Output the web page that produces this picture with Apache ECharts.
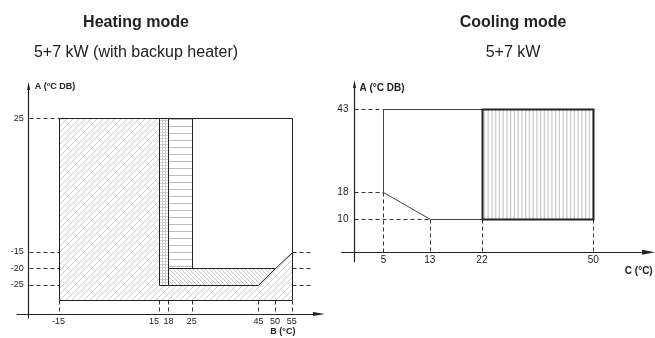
<!DOCTYPE html>
<html>
<head>
<meta charset="utf-8">
<script src="https://cdn.jsdelivr.net/npm/echarts@6/dist/echarts.min.js"></script>
<style>
  html, body { margin: 0; padding: 0; background: #fff; }
  #main { width: 655px; height: 338px; }
</style>
</head>
<body>
<div id="main"></div>
<script>
// ---------- Heating mode: B = water temperature (°C), A = outdoor temperature (°C DB)
const heatTicksB = [-15, 15, 18, 25, 45, 50, 55];
const heatTicksA = [25, -15, -20, -25];
const heatRightGuidesA = [-15, -20, -25];
const heatBoxB = [-15, 55];
const heatBoxA = [-29.5, 25];
const heatZoneGrid = [[15, 25], [18, 25], [18, -25], [15, -25]];
const heatZoneLines = [[18, 25], [25, 25], [25, -20], [18, -20]];
const heatZoneOpen = [[25, 25], [55, 25], [55, -15], [50, -20], [25, -20]];
const heatZoneBack = [[18, -20], [50, -20], [45, -25], [18, -25]];

// ---------- Cooling mode: C = water temperature (°C), A = outdoor temperature (°C DB)
const coolTicksC = [5, 13, 22, 50];
const coolTicksA = [43, 18, 10];
const coolEnvelope = [[5, 43], [50, 43], [50, 10], [13, 10], [5, 18]];
const coolZoneHatch = [[22, 43], [50, 43], [50, 10], [22, 10]];
const coolGuidesH = [[43, 5], [18, 5], [10, 13]];          // [A, C where the guide stops]
const coolGuidesV = [[5, 18], [13, 10], [22, 10], [50, 10]]; // [C, A where the guide starts]

// ---------- layout
const FONT = '"Liberation Sans", Arial, sans-serif';
const INK = '#222';
const heatGrid = { left: 17, top: 86, width: 302, height: 232 };
const heatRangeB = [-27.5, 63.2];
const heatRangeA = [-34.9, 34.7];
const heatAxisB = -24;    // B value where the A axis is drawn
const heatAxisA = -33.7;  // A value where the B axis is drawn
const heatGuideEndB = 61;
const coolGrid = { left: 341.7, top: 84, width: 306.8, height: 177.7 };
const coolRangeC = [-2.21, 59.53];
const coolRangeA = [-2.85, 50.6];
const coolBreak = { start: 31, end: 39.76, gap: 0 }; // the wide 22–50 span is drawn condensed
const coolAxisC = 0;
const coolAxisA = 0;

const heatOffsetY = -(heatAxisB - heatRangeB[0]) / (heatRangeB[1] - heatRangeB[0]) * heatGrid.width;
const heatOffsetX = -(heatAxisA - heatRangeA[0]) / (heatRangeA[1] - heatRangeA[0]) * heatGrid.height;
const coolSpanC = coolRangeC[1] - coolRangeC[0] - (coolBreak.end - coolBreak.start);
const coolOffsetY = -(coolAxisC - coolRangeC[0]) / coolSpanC * coolGrid.width;
const coolOffsetX = -(coolAxisA - coolRangeA[0]) / (coolRangeA[1] - coolRangeA[0]) * coolGrid.height;

// ---------- fill patterns
function pattern(w, h, draw) {
  const c = document.createElement('canvas');
  c.width = w; c.height = h;
  const g = c.getContext('2d');
  g.fillStyle = '#fff';
  g.fillRect(0, 0, w, h);
  draw(g, w, h);
  return { image: c, repeat: 'repeat' };
}
const fillSlash = pattern(6, 6, (g, w, h) => {
  g.strokeStyle = '#c2c2c2'; g.lineWidth = 0.8; g.beginPath();
  for (let k = -1; k <= 1; k++) { g.moveTo(k * w, h); g.lineTo(k * w + w, 0); }
  g.stroke();
});
const fillBackslash = pattern(4, 4, (g, w, h) => {
  g.strokeStyle = '#bcbcbc'; g.lineWidth = 0.8; g.beginPath();
  for (let k = -1; k <= 1; k++) { g.moveTo(k * w, 0); g.lineTo(k * w + w, h); }
  g.stroke();
});
const fillGrid = pattern(3, 3, (g) => {
  g.fillStyle = '#cfcfcf';
  g.fillRect(0, 0, 1, 3);
  g.fillRect(0, 0, 3, 1);
});
const fillLines = pattern(4, 7, (g) => {
  g.fillStyle = '#bdbdbd';
  g.fillRect(0, 0, 4, 1);
});
const fillColumns = pattern(15, 4, (g) => {
  g.fillStyle = '#cdcdcd';
  [0, 3.75, 7.5, 11.25].forEach(x => g.fillRect(x, 0, 1.3, 4));
});

// ---------- series helpers
const crisp = p => [Math.round(p[0]) + 0.5, Math.round(p[1]) + 0.5];

function zoneSeries(idx, zones) {
  return {
    type: 'custom', xAxisIndex: idx, yAxisIndex: idx, silent: true, z: 2,
    data: zones.map(z => z.pts[0]),
    renderItem: (params, api) => {
      const z = zones[params.dataIndex];
      return {
        type: 'polygon',
        shape: { points: z.pts.map(p => crisp(api.coord(p))) },
        style: { fill: z.fill, stroke: z.stroke || INK, lineWidth: z.lw || 1 }
      };
    }
  };
}

function guideSeries(idx, segs) {
  return {
    type: 'custom', xAxisIndex: idx, yAxisIndex: idx, silent: true, z: 1,
    data: segs,
    renderItem: (params, api) => {
      const a = crisp(api.coord([api.value(0), api.value(1)]));
      const b = crisp(api.coord([api.value(2), api.value(3)]));
      return {
        type: 'line',
        shape: { x1: a[0], y1: a[1], x2: b[0], y2: b[1] },
        style: { stroke: '#333', lineWidth: 1, lineDash: [4, 3] }
      };
    }
  };
}

const boxPts = [[heatBoxB[0], heatBoxA[1]], [heatBoxB[1], heatBoxA[1]],
                [heatBoxB[1], heatBoxA[0]], [heatBoxB[0], heatBoxA[0]]];

const heatGuides = [
  ...heatTicksA.map(a => [heatAxisB, a, heatBoxB[0], a]),
  ...heatRightGuidesA.map(a => [heatBoxB[1], a, heatGuideEndB, a]),
  ...heatTicksB.map(b => [b, heatBoxA[0], b, heatAxisA])
];
const coolGuides = [
  ...coolGuidesH.map(([a, c]) => [coolAxisC, a, c, a]),
  ...coolGuidesV.map(([c, a]) => [c, a, c, coolAxisA])
];

function axisName(size) {
  return { fontFamily: FONT, fontSize: size, fontWeight: 'bold', color: INK };
}
const axisLineStyle = { color: INK, width: 1.2 };

const chart = echarts.init(document.getElementById('main'), null, { renderer: 'canvas' });
chart.setOption({
  animation: false,
  backgroundColor: '#fff',
  title: [
    {
      text: 'Heating mode', subtext: '5+7 kW (with backup heater)',
      left: 136, top: 13, textAlign: 'center', padding: 0, itemGap: 10,
      textStyle: { fontFamily: FONT, fontSize: 16, fontWeight: 'bold', color: INK, lineHeight: 20 },
      subtextStyle: { fontFamily: FONT, fontSize: 16, color: INK, lineHeight: 20 }
    },
    {
      text: 'Cooling mode', subtext: '5+7 kW',
      left: 513, top: 13, textAlign: 'center', padding: 0, itemGap: 10,
      textStyle: { fontFamily: FONT, fontSize: 16, fontWeight: 'bold', color: INK, lineHeight: 20 },
      subtextStyle: { fontFamily: FONT, fontSize: 16, color: INK, lineHeight: 20 }
    }
  ],
  grid: [
    Object.assign({ containLabel: false, outerBoundsMode: 'none' }, heatGrid),
    Object.assign({ containLabel: false, outerBoundsMode: 'none' }, coolGrid)
  ],
  xAxis: [
    {
      type: 'value', gridIndex: 0, min: heatRangeB[0], max: heatRangeB[1], offset: heatOffsetX,
      axisLine: { show: true, onZero: false, lineStyle: axisLineStyle,
                  symbol: ['none', 'triangle'], symbolSize: [4, 12] },
      axisTick: { show: false }, splitLine: { show: false },
      axisLabel: {
        customValues: heatTicksB, fontFamily: FONT, fontSize: 9, color: INK, margin: 3,
        // 15 and 18 sit close together, so the 15 is nudged to the left
        formatter: v => (v === 15 ? '{nudge|' + v + '}' : String(v)),
        rich: { nudge: { fontFamily: FONT, fontSize: 9, color: INK, padding: [0, 9, 0, 0] } }
      },
      name: 'B (°C)', nameLocation: 'end', nameGap: -23.6,
      nameTextStyle: Object.assign(axisName(9), { align: 'right', verticalAlign: 'top', padding: [13, 0, 0, 0] })
    },
    {
      type: 'value', gridIndex: 1, min: coolRangeC[0], max: coolRangeC[1], offset: coolOffsetX,
      breaks: [coolBreak],
      breakArea: { show: false },
      axisLine: { show: true, onZero: false, lineStyle: axisLineStyle,
                  symbol: ['none', 'triangle'], symbolSize: [5, 13] },
      axisTick: { show: false }, splitLine: { show: false },
      axisLabel: { customValues: coolTicksC, fontFamily: FONT, fontSize: 10, color: INK, margin: 3 },
      name: 'C (°C)', nameLocation: 'end', nameGap: 4.2,
      nameTextStyle: Object.assign(axisName(10), { align: 'right', verticalAlign: 'top', padding: [14, 0, 0, 0] })
    }
  ],
  yAxis: [
    {
      type: 'value', gridIndex: 0, min: heatRangeA[0], max: heatRangeA[1], offset: heatOffsetY,
      axisLine: { show: true, onZero: false, lineStyle: axisLineStyle,
                  symbol: ['none', 'triangle'], symbolSize: [3, 8] },
      axisTick: { show: false }, splitLine: { show: false },
      axisLabel: { customValues: heatTicksA, fontFamily: FONT, fontSize: 9, color: INK, margin: 5 },
      name: 'A (°C DB)', nameLocation: 'end', nameGap: -1,
      nameTextStyle: Object.assign(axisName(9), { align: 'left', verticalAlign: 'middle', padding: [0, 0, 0, 6] })
    },
    {
      type: 'value', gridIndex: 1, min: coolRangeA[0], max: coolRangeA[1], offset: coolOffsetY,
      axisLine: { show: true, onZero: false, lineStyle: axisLineStyle,
                  symbol: ['none', 'triangle'], symbolSize: [3, 8] },
      axisTick: { show: false }, splitLine: { show: false },
      axisLabel: { customValues: coolTicksA, fontFamily: FONT, fontSize: 10, color: INK, margin: 6 },
      name: 'A (°C DB)', nameLocation: 'end', nameGap: -4,
      nameTextStyle: Object.assign(axisName(10), { align: 'left', verticalAlign: 'middle', padding: [0, 0, 0, 5] })
    }
  ],
  series: [
    guideSeries(0, heatGuides),
    zoneSeries(0, [
      { pts: boxPts, fill: fillSlash },
      { pts: heatZoneGrid, fill: fillGrid },
      { pts: heatZoneLines, fill: fillLines },
      { pts: heatZoneOpen, fill: '#fff' },
      { pts: heatZoneBack, fill: fillBackslash }
    ]),
    guideSeries(1, coolGuides),
    zoneSeries(1, [
      { pts: coolEnvelope, fill: '#fff', stroke: '#444' },
      { pts: coolZoneHatch, fill: fillColumns, stroke: '#222', lw: 2 }
    ])
  ]
});
</script>
</body>
</html>
